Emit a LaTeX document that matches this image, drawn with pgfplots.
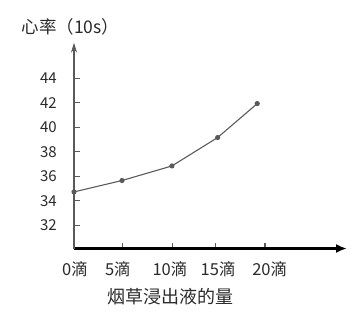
\documentclass[border=0pt]{standalone}
\usepackage{fontspec}
\setmainfont{Noto Sans CJK SC}
\usepackage{pgfplots}
\pgfplotsset{compat=1.18}
\usetikzlibrary{arrows.meta}
\definecolor{ax}{HTML}{5A5A5A}
\definecolor{txt}{HTML}{2A2A2A}
\begin{document}
\begin{tikzpicture}
\useasboundingbox (0,0) rectangle (362bp,-313bp);
\begin{axis}[
 at={(74bp,-248.5bp)}, anchor=south west,
 scale only axis, width=273bp, height=205.8bp,
 xmin=0, xmax=28.6, ymin=30.1, ymax=46.9,
 axis x line=bottom, axis y line=left,
 clip=false,
 font=\fontsize{16.5bp}{19bp}\selectfont,
 every tick label/.append style={text=txt},
 /pgf/number format/assume math mode=true,
 x axis line style={-{Latex[length=11bp,width=9bp]}, line width=2.4bp, black},
 y axis line style={-{Stealth[length=10bp,width=6bp]}, ax, line width=1.4bp},
 tick align=inside, major tick length=6bp,
 ytick={32,34,36,38,40,42,44},
 ytick style={ax, line width=1.2bp},
 yticklabel style={anchor=east, inner sep=0pt, xshift=-17bp, font=\fontsize{15bp}{17bp}\selectfont},
 xtick={5.1,10.3,14.8,20},
 xticklabels={},
 xtick style={ax, line width=1.2bp},
 extra x ticks={0.1,4.6,10.05,15.1,20.5},
 extra x tick labels={0滴,5滴,10滴,15滴,20滴},
 extra x tick style={major tick length=0pt, xticklabel style={anchor=north, inner sep=0pt, yshift=-13bp}},
 xlabel={烟草浸出液的量},
 xlabel style={at={(axis description cs:0.352,-0.236)}, anchor=center, text=txt, font=\fontsize{18bp}{21bp}\selectfont},
 ylabel={心率（10s）},
 ylabel style={at={(axis description cs:-0.013,1.076)}, anchor=center, rotate=-90, text=txt, font=\fontsize{17.5bp}{20bp}\selectfont},
]
\addplot[color=ax, line width=1.1bp, mark=*, mark size=2bp, mark options={fill=ax, draw=ax}]
 coordinates {(0,34.72)(5.03,35.65)(10.26,36.84)(15.05,39.16)(19.2,41.93)};
\end{axis}
\end{tikzpicture}
\end{document}
